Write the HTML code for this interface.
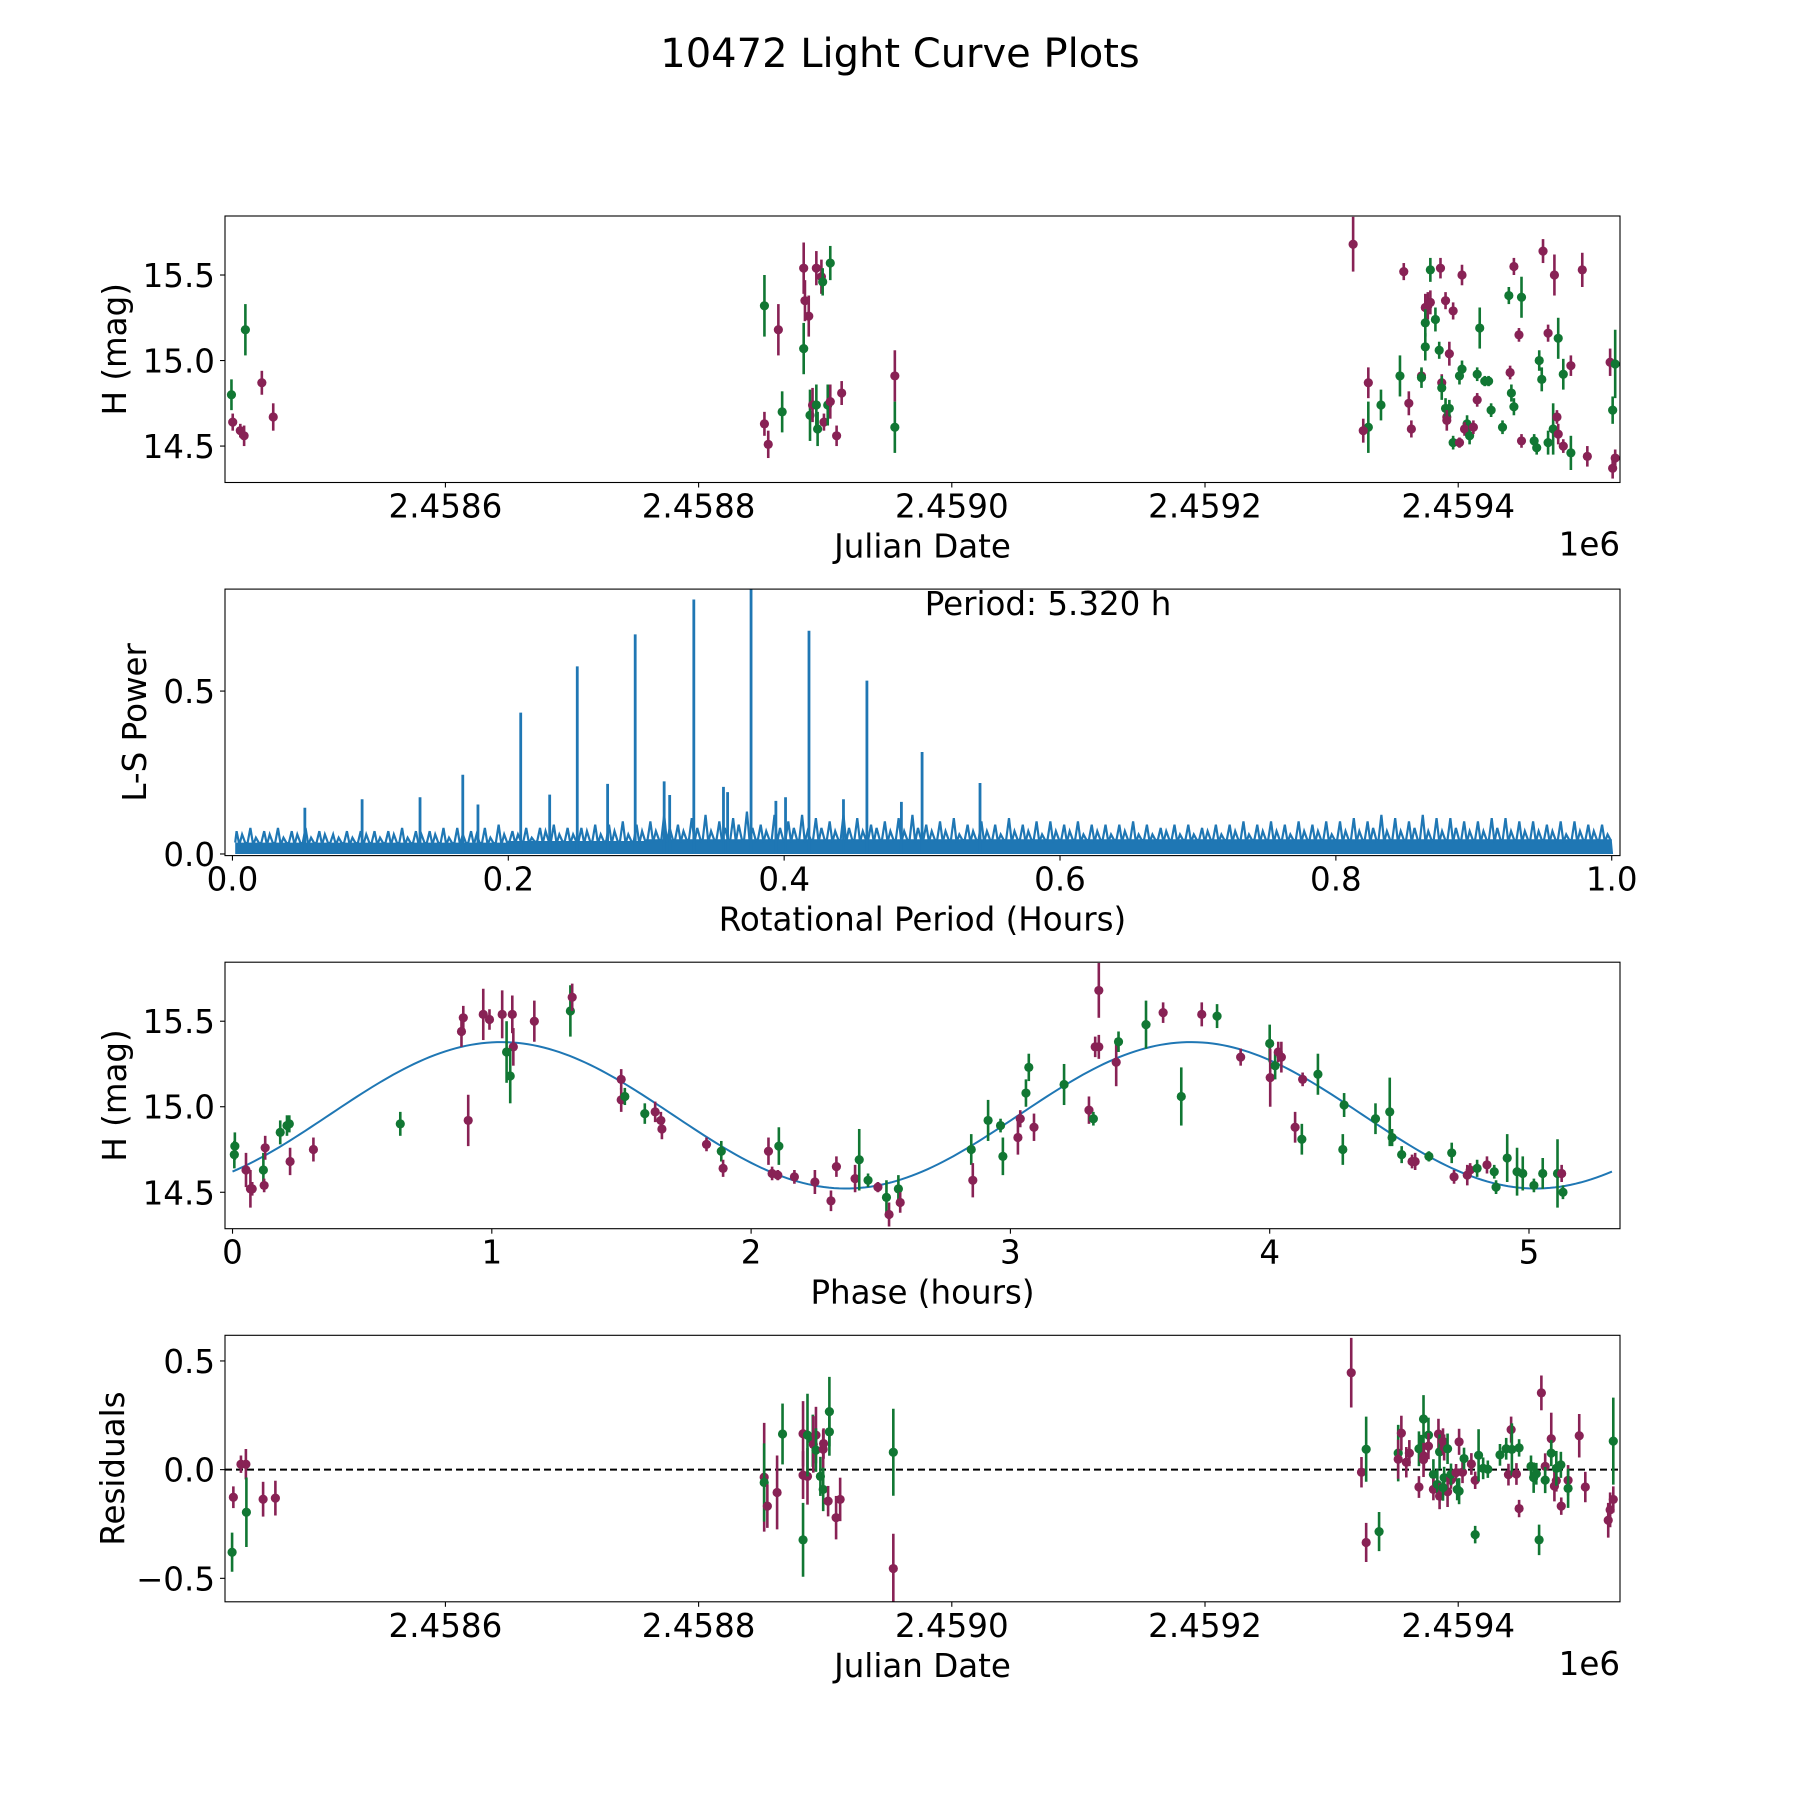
<!DOCTYPE html>
<html><head><meta charset="utf-8"><title>10472 Light Curve Plots</title>
<style>html,body{margin:0;padding:0;background:#fff}svg{display:block}text{font-family:"DejaVu Sans","Liberation Sans",sans-serif;fill:#000}</style>
</head><body>
<svg id="fig" xmlns="http://www.w3.org/2000/svg" width="1800" height="1800" viewBox="0 0 1800 1800">
<rect x="0" y="0" width="1800" height="1800" fill="#fff"/>
<text x="900" y="67" font-size="40" text-anchor="middle">10472 Light Curve Plots</text>
</svg>
<script>
// ---- Panel 1: light curve (days = JD - 2458000) ----
const lcDays=[431,432,438,441,442,455,464,852,852,855,863,866,883,883,884,887,893,888,890,893,894,897,898,899,902,904,904,909,913,955,955,
1317,1357,1378,1386,1403,1374,1376,1378,1390,1396,1374,1382,1417,1374,1385,1393,1403,1401,1415,1421,1424,1371,1371,1387,1387,1354,1329,1339,1361,1329,1325,1363,1391,1390,1393,1391,1396,1401,1407,1405,1409,1412,1415,1426,1435,1441,1442,1444,1440,1450,1444,1448,1467,1476,1498,1471,1479,1464,1466,1483,1489,1450,1460,1462,1471,1475,1478,1479,1483,1489,1502,1520,1522,1524,1522,1524];
const lcMag=[14.80,14.64,14.59,14.56,15.18,14.87,14.67,15.32,14.63,14.51,15.18,14.70,15.07,15.54,15.35,15.26,15.54,14.68,14.74,14.74,14.60,15.49,15.46,14.64,14.74,14.76,15.57,14.56,14.81,14.91,14.61,
15.68,15.52,15.53,15.54,15.50,15.31,15.32,15.34,15.35,15.29,15.22,15.24,15.19,15.08,15.06,15.04,14.95,14.91,14.92,14.88,14.88,14.91,14.90,14.87,14.84,14.91,14.87,14.74,14.75,14.61,14.59,14.60,14.67,14.72,14.72,14.65,14.52,14.52,14.63,14.60,14.56,14.61,14.77,14.71,14.61,14.93,14.81,14.73,15.38,15.37,15.55,15.15,15.64,15.50,15.53,15.16,15.13,15.00,14.89,14.92,14.97,14.53,14.53,14.49,14.52,14.60,14.67,14.57,14.50,14.46,14.44,14.99,14.71,14.98,14.37,14.43];
const lcErr=[0.09,0.05,0.04,0.06,0.15,0.07,0.08,0.18,0.07,0.08,0.15,0.12,0.15,0.15,0.12,0.12,0.10,0.15,0.10,0.12,0.10,0.10,0.08,0.05,0.12,0.10,0.10,0.06,0.07,0.15,0.15,
0.16,0.05,0.07,0.06,0.06,0.08,0.08,0.07,0.05,0.05,0.08,0.07,0.12,0.08,0.05,0.07,0.05,0.05,0.04,0.03,0.03,0.04,0.06,0.05,0.07,0.12,0.09,0.09,0.07,0.15,0.07,0.05,0.05,0.06,0.05,0.06,0.04,0.03,0.05,0.04,0.05,0.04,0.04,0.04,0.04,0.04,0.05,0.05,0.05,0.12,0.05,0.04,0.07,0.12,0.10,0.05,0.12,0.06,0.07,0.09,0.06,0.04,0.04,0.04,0.07,0.15,0.04,0.06,0.04,0.10,0.06,0.08,0.08,0.20,0.06,0.05];
const lcBand=["g","m","m","m","g","m","m","g","m","m","m","g","g","m","m","m","m","g","m","g","g","m","g","m","g","m","g","m","m","m","g",
"m","m","g","m","m","m","m","m","m","m","g","g","g","g","g","m","g","g","g","g","g","m","g","m","g","g","m","g","m","g","m","m","m","g","g","m","g","m","g","m","g","m","m","g","g","m","g","g","g","g","m","m","m","m","m","m","g","g","g","g","m","m","g","g","g","g","m","m","m","g","m","m","g","g","m","m"];
const jdTicks=[600,800,1000,1200,1400];
const jdTickLabels=["2.4586","2.4588","2.4590","2.4592","2.4594"];
const magTicks=[14.5,15.0,15.5];
const magTickLabels=["14.5","15.0","15.5"];
// ---- Panel 2: periodogram ----
const peakPeriods=[0.0525,0.094,0.136,0.167,0.178,0.209,0.230,0.250,0.272,0.292,0.313,0.317,0.3345,0.356,0.359,0.376,0.394,0.401,0.418,0.443,0.460,0.485,0.500,0.542];
const peakPowers=[0.142,0.168,0.174,0.243,0.152,0.434,0.182,0.576,0.215,0.674,0.223,0.181,0.781,0.206,0.19,0.84,0.163,0.174,0.685,0.168,0.532,0.16,0.313,0.218];
const noiseMax=[.07,.08,.07,.08,.07,.08,.07,.06,.07,.07,.07,.07,.08,.07,.07,.08,.08,.07,.08,.09,.07,.08,.08,.09,.08,.08,.09,.09,.10,.09,.10,.12,.09,.11,.12,.10,.11,.13,.09,.12,.10,.12,.11,.10,.12,.11,.09,.10,.11,.12,.09,.10,.11,.09,.10,.09,.11,.09,.10,.10,.09,.10,.09,.09,.09,.10,.09,.08,.09,.09,.08,.09,.09,.10,.09,.10,.09,.10,.09,.10,.10,.11,.10,.12,.11,.10,.12,.11,.11,.10,.10,.11,.11,.10,.10,.09,.10,.10,.09,.09];
const noiseMid=[.06,.05,.06,.05,.06,.05,.06,.05,.05,.06,.05,.06,.05,.06,.06,.05,.06,.06,.05,.06,.06,.05,.07,.06,.06,.07,.06,.07,.06,.07,.07,.08,.07,.08,.07,.08,.09,.08,.07,.08,.08,.07,.08,.07,.08,.07,.08,.07,.07,.08,.07,.07,.06,.07,.07,.06,.07,.07,.06,.07,.07,.06,.07,.06,.07,.06,.06,.07,.06,.06,.07,.06,.07,.06,.07,.07,.06,.07,.07,.06,.07,.07,.08,.07,.07,.08,.07,.07,.08,.07,.07,.08,.07,.07,.07,.07,.06,.07,.07,.06];
const noiseFloor=[0.035,0.035,0.04,0.045,0.045,0.045,0.045,0.045,0.045,0.045];
const perTicks=[0,0.2,0.4,0.6,0.8,1.0];
const perTickLabels=["0.0","0.2","0.4","0.6","0.8","1.0"];
const powTicks=[0,0.5];
const powTickLabels=["0.0","0.5"];
// ---- Panel 3: phased ----
const phPhase=[0.009,0.007,0.052,0.069,0.076,0.119,0.126,0.122,0.184,0.210,0.219,0.222,0.312,0.647,0.909,0.883,0.890,0.967,0.991,1.040,1.079,1.083,1.057,1.071,1.164,1.303,1.310,1.499,1.499,1.513,1.590,1.630,1.652,1.656,1.828,1.885,1.892,2.067,2.107,2.081,2.103,2.167,2.246,2.308,2.329,2.401,2.417,2.451,2.489,2.522,2.532,2.568,2.575,
2.849,2.855,2.914,2.962,2.971,3.029,3.038,3.091,3.060,3.071,3.207,3.303,3.320,3.327,3.341,3.408,3.417,3.341,3.523,3.589,3.659,3.738,3.797,3.888,4.000,4.002,4.021,4.033,4.045,4.127,4.186,4.098,4.124,4.282,4.287,4.408,4.463,4.472,4.509,4.549,4.561,4.614,4.702,4.711,4.762,4.773,4.800,4.838,4.866,4.873,4.916,4.954,4.976,5.019,5.053,5.110,5.126,5.131];
const phMag=[14.77,14.72,14.63,14.52,14.52,14.63,14.76,14.54,14.85,14.89,14.90,14.68,14.75,14.90,14.92,15.44,15.52,15.54,15.51,15.54,15.54,15.35,15.32,15.18,15.50,15.56,15.64,15.16,15.04,15.06,14.96,14.97,14.92,14.87,14.78,14.74,14.64,14.74,14.77,14.61,14.60,14.59,14.56,14.45,14.65,14.58,14.69,14.57,14.53,14.47,14.37,14.52,14.44,
14.75,14.57,14.92,14.89,14.71,14.82,14.93,14.88,15.08,15.23,15.13,14.98,14.93,15.35,15.35,15.26,15.38,15.68,15.48,15.55,15.06,15.54,15.53,15.29,15.37,15.17,15.24,15.32,15.29,15.16,15.19,14.88,14.81,14.75,15.01,14.93,14.97,14.82,14.72,14.68,14.68,14.71,14.73,14.59,14.60,14.63,14.64,14.66,14.62,14.53,14.70,14.62,14.61,14.54,14.61,14.61,14.61,14.50];
const phErr=[0.08,0.08,0.10,0.11,0.04,0.10,0.07,0.04,0.07,0.06,0.05,0.08,0.07,0.07,0.15,0.09,0.07,0.15,0.06,0.14,0.11,0.11,0.18,0.16,0.12,0.15,0.08,0.06,0.07,0.05,0.06,0.06,0.05,0.06,0.04,0.06,0.05,0.08,0.11,0.04,0.03,0.04,0.07,0.06,0.06,0.08,0.18,0.04,0.03,0.10,0.07,0.08,0.06,
0.09,0.10,0.12,0.04,0.11,0.10,0.05,0.08,0.08,0.08,0.12,0.08,0.04,0.06,0.07,0.14,0.06,0.16,0.14,0.06,0.17,0.07,0.07,0.05,0.11,0.17,0.08,0.06,0.09,0.04,0.12,0.09,0.09,0.09,0.07,0.09,0.20,0.05,0.05,0.04,0.05,0.03,0.06,0.04,0.06,0.04,0.05,0.05,0.04,0.04,0.14,0.14,0.10,0.04,0.09,0.20,0.05,0.04];
const phBand=["g","g","m","m","m","g","m","m","g","g","g","m","m","g","m","m","m","m","m","m","m","m","g","g","m","g","m","m","m","g","g","m","m","m","m","g","m","m","g","m","m","m","m","m","m","m","g","g","m","g","m","g","m",
"g","m","g","g","g","m","m","m","g","g","g","m","g","m","m","m","g","m","g","m","g","m","g","m","g","m","g","m","m","m","g","m","g","g","g","g","g","g","g","m","m","g","g","m","m","m","g","m","g","g","g","g","g","g","g","g","m","g"];
const fitParams=[14.95,0.428,1.036,2.66]; // mean, amplitude, peak phase, cycle length (h)
const phTicks=[0,1,2,3,4,5];
const phTickLabels=["0","1","2","3","4","5"];
// ---- Panel 4: residuals ----
const resDays=[431.5,432.5,438.5,442.4,442.8,456,465.7,851.8,851.8,854.3,862,866.3,882.5,882.5,882.5,886,886,890.2,890.6,892.7,892.7,896.2,898.4,898.7,898.4,903.3,903.3,902.3,911.8,908.6,953.8,953.8,
1315.5,1323.6,1327.3,1327.3,1337.5,1352.6,1352.6,1355.1,1359,1361.4,1369,1369,1370.8,1372.9,1372.6,1372.6,1376.5,1376.5,1380.4,1380.4,1383.5,1384.4,1385.3,1385.3,1388,1388.9,1388.9,1391.6,1391.6,1388,1394.3,1394.3,1398.3,1399.2,1400.7,1400.7,1403.4,1404.6,1410.4,1413.4,1413.4,1416.1,1419.7,1423.4,1433,1437.9,1439.7,1441.8,1442.4,1446,1448.1,1448.1,1457.5,1459.6,1461.7,1463.9,1465.7,1468.7,1468.7,1473.5,1473.5,1476,1477.5,1477.5,1481.1,1481.4,1486.8,1486.8,1495.6,1500.4,1518.5,1520,1522.5,1522.5];
const resVal=[-0.38,-0.127,0.025,0.025,-0.196,-0.136,-0.131,-0.035,-0.059,-0.168,-0.105,0.164,0.165,-0.323,-0.025,-0.031,0.159,0.133,0.116,0.159,0.09,-0.031,0.094,0.12,-0.091,0.267,0.174,-0.145,-0.137,-0.221,0.08,-0.455,
0.446,-0.012,0.094,-0.335,-0.285,0.076,0.048,0.168,0.034,0.076,-0.08,0.096,0.10,0.063,0.046,0.233,0.159,0.108,-0.022,-0.091,-0.068,0.164,-0.122,0.082,0.13,-0.037,0.102,0.096,-0.102,-0.083,-0.048,-0.022,-0.014,-0.091,-0.099,0.128,-0.012,0.051,0.026,-0.049,-0.299,0.066,0.006,0.002,0.068,0.096,-0.023,0.184,0.093,-0.02,-0.179,0.10,0.015,-0.037,-0.019,-0.323,0.353,0.015,-0.048,0.142,0.076,-0.076,-0.051,0.006,0.022,-0.168,-0.049,-0.086,0.156,-0.08,-0.233,-0.185,-0.137,0.131];
const resErr=[0.09,0.05,0.04,0.07,0.16,0.08,0.08,0.25,0.18,0.1,0.17,0.14,0.15,0.17,0.11,0.13,0.19,0.12,0.13,0.13,0.1,0.09,0.09,0.07,0.1,0.16,0.11,0.07,0.1,0.1,0.2,0.16,
0.16,0.07,0.15,0.09,0.09,0.13,0.09,0.08,0.07,0.06,0.05,0.08,0.06,0.06,0.08,0.11,0.08,0.06,0.07,0.05,0.07,0.07,0.06,0.08,0.06,0.05,0.06,0.07,0.07,0.06,0.04,0.05,0.04,0.05,0.06,0.06,0.05,0.05,0.05,0.04,0.04,0.12,0.05,0.04,0.05,0.05,0.05,0.06,0.12,0.05,0.04,0.04,0.05,0.07,0.05,0.07,0.08,0.06,0.06,0.12,0.06,0.07,0.05,0.08,0.06,0.04,0.07,0.09,0.1,0.07,0.08,0.08,0.06,0.2];
const resBand=["g","m","m","m","g","m","m","m","g","m","m","g","m","g","m","m","g","g","m","m","g","g","m","m","g","g","g","m","m","m","g","m",
"m","m","g","m","g","g","m","m","m","m","m","g","g","m","m","g","g","m","g","m","g","m","m","g","m","g","m","g","m","g","m","g","m","g","g","m","m","g","m","m","g","g","g","g","g","g","m","m","g","m","m","g","g","g","g","g","m","m","g","m","g","m","m","g","g","m","m","g","m","m","m","m","m","g"];
const resTicks=[-0.5,0,0.5];
const resTickLabels=["\u22120.5","0.0","0.5"];

const NS="http://www.w3.org/2000/svg";
const svg=document.getElementById("fig");
const COL={m:"#882255",g:"#117733"};
const AX_L=225, AX_R=1620, AX_H=266.5, GAP=106.6, FS=32.5;
function el(tag,parent){const e=document.createElementNS(NS,tag);parent.appendChild(e);return e;}
function makeAxes(i,xmin,xmax,ymin,ymax,name){
  const top=216+i*(AX_H+GAP), bot=top+AX_H;
  const g=el("g",svg);
  
  
  const sx=v=>AX_L+(v-xmin)/(xmax-xmin)*(AX_R-AX_L);
  const sy=v=>bot-(v-ymin)/(ymax-ymin)*AX_H;
  const clipId="clip"+i;
  const cp=el("clipPath",g); cp.setAttribute("id",clipId);
  const cr=el("rect",cp); cr.setAttribute("x",AX_L);cr.setAttribute("y",top);cr.setAttribute("width",AX_R-AX_L);cr.setAttribute("height",AX_H);
  const plot=el("g",g); plot.setAttribute("clip-path","url(#"+clipId+")");
  
  
  return {g,plot,sx,sy,top,bot};
}
function frame(ax){
  const r=el("rect",ax.g);
  r.setAttribute("x",AX_L);r.setAttribute("y",ax.top);r.setAttribute("width",AX_R-AX_L);r.setAttribute("height",AX_H);
  r.setAttribute("fill","none");r.setAttribute("stroke","#000");r.setAttribute("stroke-width","1.1");
  
  
}
function xticks(ax,vals,labels){
  vals.forEach((v,k)=>{
    const x=ax.sx(v);
    const t=el("line",ax.g);t.setAttribute("x1",x);t.setAttribute("x2",x);t.setAttribute("y1",ax.bot);t.setAttribute("y2",ax.bot+5);t.setAttribute("stroke","#000");t.setAttribute("stroke-width","1.1");
    
    
    const tx=el("text",ax.g);tx.setAttribute("x",x);tx.setAttribute("y",ax.bot+35);tx.setAttribute("font-size",FS);tx.setAttribute("text-anchor","middle");tx.textContent=labels[k];
    
    
  });
}
function yticks(ax,vals,labels){
  vals.forEach((v,k)=>{
    const y=ax.sy(v);
    const t=el("line",ax.g);t.setAttribute("x1",AX_L-5);t.setAttribute("x2",AX_L);t.setAttribute("y1",y);t.setAttribute("y2",y);t.setAttribute("stroke","#000");t.setAttribute("stroke-width","1.1");
    
    
    const tx=el("text",ax.g);tx.setAttribute("x",AX_L-10);tx.setAttribute("y",y+12);tx.setAttribute("font-size",FS);tx.setAttribute("text-anchor","end");tx.textContent=labels[k];
    
    
  });
}
function labels(ax,xl,yl,ylx,offset){
  const a=el("text",ax.g);a.setAttribute("x",(AX_L+AX_R)/2);a.setAttribute("y",ax.bot+75);a.setAttribute("font-size",FS);a.setAttribute("text-anchor","middle");a.textContent=xl;
  
  
  const cy=(ax.top+ax.bot)/2;
  const b=el("text",ax.g);b.setAttribute("x",ylx);b.setAttribute("y",cy);b.setAttribute("font-size",FS);b.setAttribute("text-anchor","middle");b.setAttribute("transform","rotate(-90 "+ylx+" "+cy+")");b.textContent=yl;
  
  
  if(offset){
    const o=el("text",ax.g);o.setAttribute("x",AX_R);o.setAttribute("y",ax.bot+73);o.setAttribute("font-size",FS);o.setAttribute("text-anchor","end");o.textContent=offset;
    
    
  }
}
function errpoints(ax,xs,ys,es,bands){
  xs.forEach((xv,k)=>{
    const x=ax.sx(xv), c=COL[bands[k]];
    const l=el("line",ax.plot);l.setAttribute("x1",x);l.setAttribute("x2",x);l.setAttribute("y1",ax.sy(ys[k]-es[k]));l.setAttribute("y2",ax.sy(ys[k]+es[k]));l.setAttribute("stroke",c);l.setAttribute("stroke-width","2.6");
    
    
    const p=el("circle",ax.plot);p.setAttribute("cx",x);p.setAttribute("cy",ax.sy(ys[k]));p.setAttribute("r","4.6");p.setAttribute("fill",c);
    
    
  });
}
// Panel 1
const a1=makeAxes(0,425.9,1527.8,14.287,15.845,'light-curve-panel');
errpoints(a1,lcDays,lcMag,lcErr,lcBand);
frame(a1);xticks(a1,jdTicks,jdTickLabels);yticks(a1,magTicks,magTickLabels);labels(a1,"Julian Date","H (mag)",126,"1e6");
// Panel 2
const a2=makeAxes(1,-0.0054,1.006,-0.005,0.813,'periodogram-panel');
{
  let d="M"+a2.sx(0.002)+","+a2.sy(0);
  noiseFloor.forEach((f,k)=>{d+=" L"+a2.sx(Math.max(0.002,k*0.1))+","+a2.sy(f)+" L"+a2.sx(Math.min(1.001,(k+1)*0.1))+","+a2.sy(f);});
  d+=" L"+a2.sx(1.001)+","+a2.sy(0)+" Z";
  const area=el("path",a2.plot);area.setAttribute("d",d);area.setAttribute("fill","#1f77b4");
  
  
  let n="";
  noiseMax.forEach((v,k)=>{
    const b=k*0.01, fl=noiseFloor[Math.floor(k/10)];
    const xa=a2.sx(Math.max(0.002,b+0.001)),xb=a2.sx(b+0.003),xc=a2.sx(b+0.005),xd=a2.sx(b+0.007),xe=a2.sx(Math.min(1.001,b+0.0095));
    n+=(k?" L":"M")+xa+","+a2.sy(fl)+" L"+xb+","+a2.sy(v)+" L"+xc+","+a2.sy(fl*0.8)+" L"+xd+","+a2.sy(noiseMid[k])+" L"+xe+","+a2.sy(fl*0.9);
  });
  const nl=el("path",a2.plot);nl.setAttribute("d",n);nl.setAttribute("stroke","#1f77b4");nl.setAttribute("stroke-width","2.2");nl.setAttribute("fill","none");
  
  
  peakPeriods.forEach((p,k)=>{
    const x=a2.sx(p);
    const l=el("line",a2.plot);l.setAttribute("x1",x);l.setAttribute("x2",x);l.setAttribute("y1",a2.sy(0));l.setAttribute("y2",a2.sy(peakPowers[k]));l.setAttribute("stroke","#1f77b4");l.setAttribute("stroke-width","2.8");
    
    
  });
}
frame(a2);xticks(a2,perTicks,perTickLabels);yticks(a2,powTicks,powTickLabels);labels(a2,"Rotational Period (Hours)","L-S Power",146,null);
{const t=el("text",a2.g);t.setAttribute("x",1048);t.setAttribute("y",615);t.setAttribute("font-size",FS);t.setAttribute("text-anchor","middle");t.textContent="Period: 5.320 h";

}
// Panel 3
const a3=makeAxes(2,-0.029,5.351,14.287,15.845,'phased-panel');
{
  let d="";
  for(let k=0;k<=266;k++){const p=k*0.02;const m=fitParams[0]+fitParams[1]*Math.cos(2*Math.PI*(p-fitParams[2])/fitParams[3]);d+=(k?" L":"M")+a3.sx(p)+","+a3.sy(m);}
  const c=el("path",a3.plot);c.setAttribute("d",d);c.setAttribute("fill","none");c.setAttribute("stroke","#1f77b4");c.setAttribute("stroke-width","2");
  
  
}
errpoints(a3,phPhase,phMag,phErr,phBand);
frame(a3);xticks(a3,phTicks,phTickLabels);yticks(a3,magTicks,magTickLabels);labels(a3,"Phase (hours)","H (mag)",126,null);
// Panel 4
const a4=makeAxes(3,425.9,1527.8,-0.608,0.618,'residuals-panel');
{const z=el("line",a4.plot);z.setAttribute("x1",AX_L);z.setAttribute("x2",AX_R);z.setAttribute("y1",a4.sy(0));z.setAttribute("y2",a4.sy(0));z.setAttribute("stroke","#000");z.setAttribute("stroke-width","2");z.setAttribute("stroke-dasharray","7,4");

}
errpoints(a4,resDays,resVal,resErr,resBand);
frame(a4);xticks(a4,jdTicks,jdTickLabels);yticks(a4,resTicks,resTickLabels);labels(a4,"Julian Date","Residuals",124,"1e6");
</script>
</body></html>
